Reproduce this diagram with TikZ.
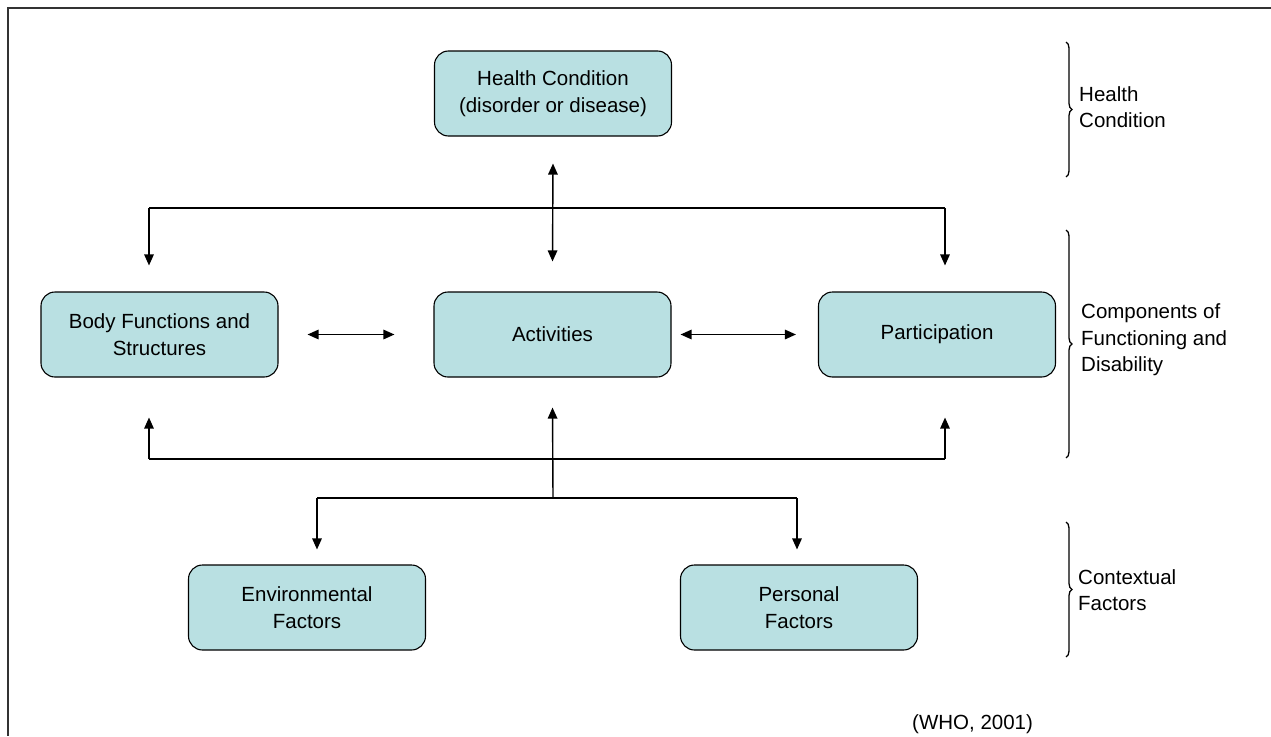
\documentclass[tikz,border=0pt]{standalone}
\usepackage{fontspec}
\setmainfont{Liberation Sans}
\usetikzlibrary{arrows.meta,decorations.pathreplacing}
\definecolor{boxfill}{RGB}{185,224,226}
\begin{document}
\begin{tikzpicture}[x=1pt,y=-1pt,
  txt/.style={font=\fontsize{20.5}{26.5}\selectfont},
  box/.style={txt, draw=black, line width=1.1pt, fill=boxfill, rounded corners=14pt,
    minimum width=237pt, minimum height=85pt, align=center, inner sep=0pt},
  conn/.style={line width=1.4pt, draw=black},
  arr/.style={conn, -{Triangle[length=11pt,width=9.5pt]}},
  darr/.style={conn, {Triangle[length=11pt,width=9.5pt]}-{Triangle[length=11pt,width=9.5pt]}},
  lab/.style={txt, align=left, anchor=west, inner sep=0pt},
  brc/.style={draw=black, line width=1.3pt, decorate, decoration={brace, amplitude=6pt}},
]
\useasboundingbox (0,0) rectangle (1271,736);
\draw[line width=2pt, draw=black!80] (1271,8) -- (8,8) -- (8,736);

% boxes
\node[box] (hc)   at (553,93.5)   {Health Condition\\(disorder or disease)};
\node[box] (body) at (159.5,334.5) {Body Functions and\\Structures};
\node[box] (act)  at (552.5,334.5) {Activities};
\node[box] (part) at (937,334.5)   {Participation};
\node[box] (env)  at (307,607.5)   {Environmental\\Factors};
\node[box] (pers) at (799,607.5)   {Personal\\Factors};

% top connectors
\coordinate (tl) at (149,208);
\coordinate (tr) at (945,208);
\draw[conn] (tl) -- (tr);
\draw[arr] (tl) -- ([yshift=26pt]tl |- body.north);
\draw[arr] (tr) -- ([yshift=26pt]tr |- part.north);
\draw[darr] ([yshift=-27pt]hc.south) -- ([yshift=30pt]act.north);

% horizontal double arrows
\draw[darr] ([xshift=29pt]body.east) -- ([xshift=-39pt]act.west);
\draw[darr] ([xshift=9pt]act.east) -- ([xshift=-22pt]part.west);

% bottom connectors
\coordinate (bl) at (149,459);
\coordinate (br) at (945,459);
\draw[conn] (bl) -- (br);
\draw[arr] (bl) -- ([yshift=-40pt]bl |- body.south);
\draw[arr] (br) -- ([yshift=-40pt]br |- part.south);
\coordinate (jb) at (553,498);
\draw[arr] (jb) -- ([yshift=-30pt]act.south);
\coordinate (ll) at (317,498);
\coordinate (lr) at (797,498);
\draw[conn] (ll) -- (lr);
\draw[arr] (ll) -- ([yshift=15pt]ll |- env.north);
\draw[arr] (lr) -- ([yshift=15pt]lr |- pers.north);

% braces and labels
\draw[brc] (1066,42) -- (1066,177);
\node[lab] (l1) at (1079,107) {Health\\Condition};
\draw[brc] (1066,230) -- (1066,458);
\node[lab] (l2) at (1081,340) {Components of\\Functioning and\\Disability};
\draw[brc] (1066,522) -- (1066,657);
\node[lab] (l3) at (1078,590) {Contextual\\Factors};

\node[txt, anchor=base west, inner sep=0pt] (src) at (912,729) {(WHO, 2001)};
\end{tikzpicture}
\end{document}
